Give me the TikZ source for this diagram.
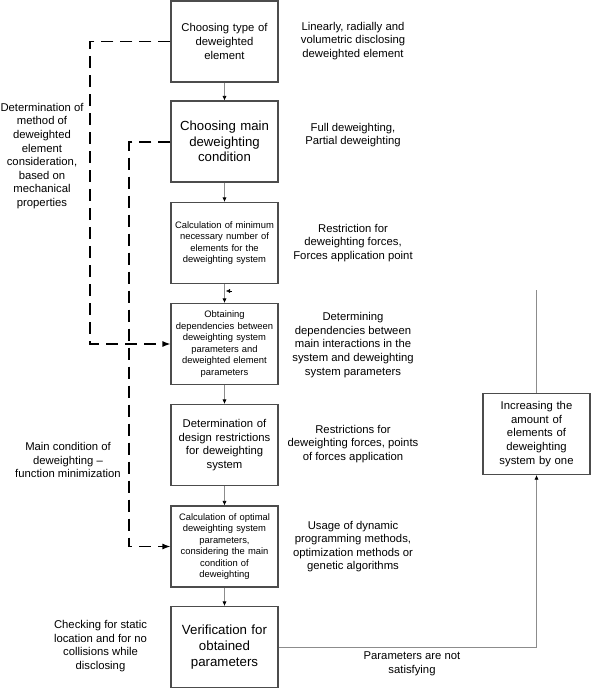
\documentclass[tikz,border=0pt]{standalone}
\usepackage{fontspec}
\setmainfont{Liberation Sans}
\usetikzlibrary{arrows.meta}
\begin{document}
\begin{tikzpicture}[x=1pt,y=-1pt,
  mainbox/.style={draw=black!70,line width=1.1pt,minimum width=107pt,minimum height=81pt,inner sep=0pt,align=center,text width=104pt,fill=white},
  txt/.style={align=center,inner sep=0pt},
  fn/.style={font=\fontsize{11.3}{13.6}\selectfont},
  fbig/.style={font=\fontsize{13.2}{15.6}\selectfont},
  fsm/.style={font=\fontsize{9.4}{11.5}\selectfont},
  flow/.style={draw=black!45,line width=0.6pt,-{Latex[length=4.5pt,width=4pt,color=black]}},
  dashconn/.style={draw=black,line width=1.3pt,dash pattern=on 12pt off 7pt,-{Latex[length=8pt,width=6pt]}},
  plain/.style={draw=black!45,line width=0.6pt}
]
\useasboundingbox (0,0) rectangle (591,688);
% main column
\node[mainbox,fn] (b1) at (224.5,41.5) {Choosing type of\\deweighted\\element};
\node[mainbox,fbig] (b2) at (224.5,141.5) {Choosing main\\deweighting\\condition};
\node[mainbox,fsm] (b3) at (224.5,243) {Calculation of minimum\\necessary number of\\elements for the\\deweighting system};
\node[mainbox,fsm] (b4) at (224.5,344) {Obtaining\\dependencies between\\deweighting system\\parameters and\\deweighted element\\parameters};
\node[mainbox,fn] (b5) at (224.5,445) {Determination of\\design restrictions\\for deweighting\\system};
\node[mainbox,fsm] (b6) at (224.5,546.5) {Calculation of optimal\\deweighting system\\parameters,\\considering the main\\condition of\\deweighting};
\node[mainbox,fbig,font=\fontsize{13.3}{16}\selectfont] (b7) at (224.5,647) {Verification for\\obtained\\parameters};
\node[mainbox,fn] (b8) at (536.5,434) {Increasing the\\amount of\\elements of\\deweighting\\system by one};
% right labels
\node[txt,fn] (r1) at (353,41) {Linearly, radially and\\volumetric disclosing\\deweighted element};
\node[txt,fn] (r2) at (353,135) {Full deweighting,\\Partial deweighting};
\node[txt,fn] (r3) at (353,243) {Restriction for\\deweighting forces,\\Forces application point};
\node[txt,fn] (r4) at (353,345) {Determining\\dependencies between\\main interactions in the\\system and deweighting\\system parameters};
\node[txt,fn] (r5) at (353,444) {Restrictions for\\deweighting forces, points\\of forces application};
\node[txt,fn] (r6) at (353,546.5) {Usage of dynamic\\programming methods,\\optimization methods or\\genetic algorithms};
% left labels
\node[txt,fn] (l1) at (42,156) {Determination of\\method of\\deweighted\\element\\consideration,\\based on\\mechanical\\properties};
\node[txt,fn] (l2) at (68,460) {Main condition of\\deweighting --\\function minimization};
\node[txt,fn] (l3) at (100.5,646) {Checking for static\\location and for no\\collisions while\\disclosing};
\node[txt,fn] (l4) at (412,664) {Parameters are not\\satisfying};
% flow arrows
\draw[flow] (b1) -- (b2);
\draw[flow] (b2) -- (b3);
\draw[flow] (b3) -- (b4);
\draw[flow] (b4) -- (b5);
\draw[flow] (b5) -- (b6);
\draw[flow] (b6) -- (b7);
\coordinate (c1) at (536.5,647);
\draw[flow] (b7.east |- c1) -- (c1) -- (b8.south);
\coordinate (c2) at (536.5,290);
\draw[plain] (b8.north) -- (c2);
\coordinate (t1) at (231.5,291);
\coordinate (t2) at (226,291);
\draw[black,line width=0.4pt,-{Latex[length=4pt,width=4pt]}] (t1) -- (t2);
% dashed connectors
\coordinate (d1) at (90,41.5);
\coordinate (d2) at (90,344);
\draw[dashconn] (b1.west) -- (d1) -- (d2) -- (b4.west);
\coordinate (e1) at (129,142);
\coordinate (e2) at (129,546.5);
\draw[dashconn] (b2.west |- e1) -- (e1) -- (e2) -- (b6.west);
\end{tikzpicture}
\end{document}
